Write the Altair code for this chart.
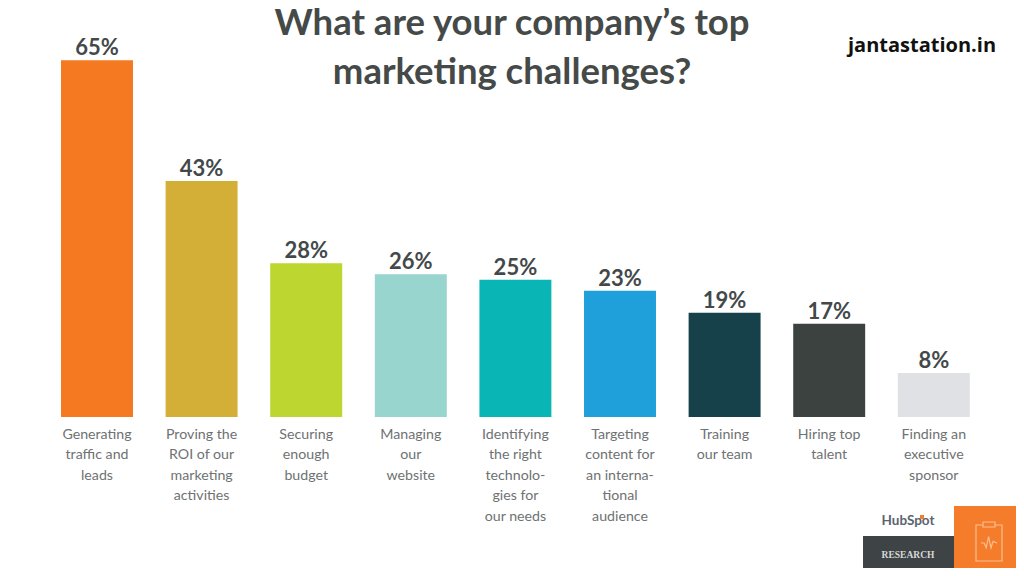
import altair as alt
import pandas as pd

categories = ["Generating|traffic and|leads", "Proving the|ROI of our|marketing|activities",
              "Securing|enough|budget", "Managing|our|website",
              "Identifying|the right|technolo-|gies for|our needs",
              "Targeting|content for|an interna-|tional|audience",
              "Training|our team", "Hiring top|talent", "Finding an|executive|sponsor"]
values = [65, 43, 28, 26, 25, 23, 19, 17, 8]
colors = ["#F47920", "#D4AF37", "#BDD630", "#99D5CF", "#0AB5B5", "#1FA0DB", "#16414A", "#3C4240", "#DFE1E5"]
title_lines = ["What are your company’s top", "marketing challenges?"]
watermark = "jantastation.in"
logo_word = "HubSpot"
logo_tag = "RESEARCH"

df = pd.DataFrame({"cat": categories, "val": values, "col": colors})
one = pd.DataFrame({"a": [0]})

x = alt.X("cat:N", sort=None, title=None,
          scale=alt.Scale(range=[36.7, 978.1], paddingInner=0.312, paddingOuter=0.156, round=False),
          axis=alt.Axis(domain=False, ticks=False, labelAngle=0, labelExpr="split(datum.label,'|')",
                        labelFont="Lato", labelFontSize=14.2, labelColor="#6E7272", labelPadding=10,
                        labelLineHeight=20.6, labelLimit=200, labelOverlap=False, grid=False))
y = alt.Y("val:Q", title=None, axis=None, scale=alt.Scale(domain=[0, 74.5], range=[409, 0], nice=False))

bars = alt.Chart(df).mark_bar().encode(
    x=x, y=y, color=alt.Color("col:N", scale=None, legend=None))
nums = alt.Chart(df).transform_calculate(t="datum.val + '%'").mark_text(
    font="Lato", fontWeight="bold", fontSize=22, color="#43494A", baseline="bottom", dy=0
).encode(x=x, y=y, text="t:N")


def txt(s, px, py, size, color, weight="bold", font="Lato", align="center"):
    return alt.Chart(one).mark_text(font=font, fontSize=size, fontWeight=weight, color=color,
                                    align=align, baseline="middle").encode(
        x=alt.value(px), y=alt.value(py), text=alt.value(s))


def box(x1, x2, y1, y2, **kw):
    return alt.Chart(one).mark_rect(**kw).encode(
        x=alt.value(x1), x2=alt.value(x2), y=alt.value(y1), y2=alt.value(y2))


layers = [bars, nums,
          txt(title_lines[0], 504, 16, 36.5, "#454A49"),
          txt(title_lines[1], 504, 65, 36.5, "#454A49"),
          txt(watermark, 914, 38, 20, "#111111", font="Open Sans"),
          box(855, 946, 528, 560, color="#3E4345"),
          box(946, 1008, 498, 560, color="#F47C2A"),
          txt(logo_word, 900, 513, 13.5, "#5A6470"),
          box(912, 916, 507, 511, color="#F47C2A"),
          txt(logo_tag, 900, 547, 9.5, "#D8D8D8", font="Liberation Serif"),
          box(968, 994, 517, 553, fill="#F47C2A", stroke="#F9BE92", strokeWidth=1.2),
          box(975, 987, 514, 519, fill="#F47C2A", stroke="#F9BE92", strokeWidth=1.2),
          alt.Chart(one).mark_point(
              shape="M-1 0 L-0.6 0 L-0.35 0.6 L-0.05 -0.8 L0.25 0.6 L0.5 -0.2 L1 0",
              size=260, stroke="#F9BE92", strokeWidth=1.2, fill=None, opacity=1
          ).encode(x=alt.value(981), y=alt.value(535)),
          ]

chart = alt.layer(*layers).properties(
    width=1008, height=409,
    padding={"left": 0, "top": 0, "right": 0, "bottom": 151},
    autosize="none", background="#FFFFFF",
).configure_view(stroke=None)

chart.save("out.html", embed_options={"renderer": "svg", "actions": False})
